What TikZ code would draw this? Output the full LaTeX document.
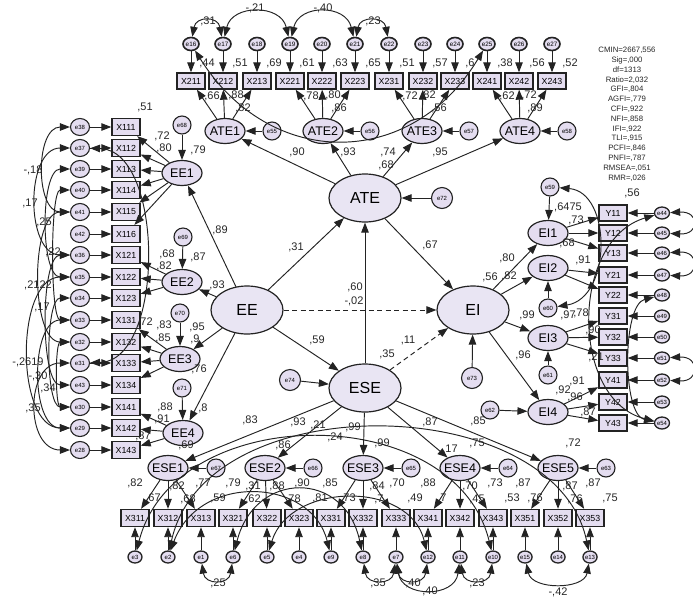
\documentclass[tikz,border=0pt]{standalone}
\usepackage{fontspec}
\setmainfont{Liberation Sans}
\usetikzlibrary{arrows.meta,shapes.geometric}
\definecolor{lav}{RGB}{228,221,240}
\definecolor{lavl}{RGB}{233,229,243}
\definecolor{ink}{RGB}{35,35,35}
\begin{document}
\begin{tikzpicture}[x=1pt,y=-1pt,
  >={Triangle[length=10pt,width=7.5pt]},
  every node/.style={inner sep=0pt},
  big/.style={ellipse,draw=ink,line width=1.2pt,fill=lavl,minimum width=72pt,minimum height=48pt},
  bigtxt/.style={font=\fontsize{16}{16}\selectfont},
  sub/.style={ellipse,draw=ink,line width=1.2pt,fill=lav,minimum width=40pt,minimum height=25pt},
  subtxt/.style={font=\fontsize{12.5}{12.5}\selectfont},
  obs/.style={rectangle,draw=ink,line width=1.4pt,fill=lav,minimum width=28pt,minimum height=16pt,font=\fontsize{8.8}{8.8}\selectfont},
  err/.style={ellipse,draw=ink,line width=1.1pt,fill=lav},
  errT/.style={err,line width=1.6pt,minimum width=16pt,minimum height=13pt,font=\fontsize{6.3}{6.3}\selectfont},
  errL/.style={err,minimum width=19pt,minimum height=17pt,font=\fontsize{6}{6}\selectfont},
  errB/.style={err,line width=1.3pt,minimum width=14pt,minimum height=12pt,font=\fontsize{6}{6}\selectfont},
  errR/.style={err,line width=1.3pt,minimum width=15pt,minimum height=12pt,font=\fontsize{6}{6}\selectfont},
  res/.style={err,minimum width=18pt,minimum height=18pt,font=\fontsize{6}{6}\selectfont},
  lab/.style={font=\fontsize{11}{11}\selectfont,text=black!85},
  arr/.style={->,line width=0.95pt,draw=ink},
  cov/.style={<->,line width=0.95pt,draw=ink},
  fitstyle/.style={font=\fontsize{7.8}{9.8}\selectfont,align=center,text=black!85}
]
\useasboundingbox (0,0) rectangle (693,598);

% ---------- top indicators ----------
\foreach \n/\x/\e in {211/191/16,212/223/17,213/257/18,221/290/19,222/322/20,223/355/21,231/389/22,232/423/23,233/455/24,241/487/25,242/519/26,243/552/27}{
  \node[obs] (X\n) at (\x,81) {X\n};
  \node[errT] (e\e) at (\x,44) {e\e};
  \draw[arr] (e\e) -- (X\n);
}
\foreach \k/\x/\e in {1/225/55,2/323/56,3/422/57,4/520/58}{
  \node[sub,label={[subtxt]center:ATE\k}] (ATE\k) at (\x,131) {};
  \node[res] (e\e) at ({\x+47},131) {e\e};
  \draw[arr] (e\e) -- (ATE\k);
}
\foreach \m in {211,212,213} \draw[arr] (ATE1) -- (X\m);
\foreach \m in {221,222,223} \draw[arr] (ATE2) -- (X\m);
\foreach \m in {231,232,233} \draw[arr] (ATE3) -- (X\m);
\foreach \m in {241,242,243} \draw[arr] (ATE4) -- (X\m);
\draw[cov] (e16) .. controls (196,16) and (218,16) .. (e17);
\draw[cov] (e17) .. controls (232,4) and (281,4) .. (e19);
\draw[cov] (e19) .. controls (299,4) and (346,4) .. (e21);
\draw[cov] (e21) .. controls (360,16) and (384,16) .. (e22);
\draw[cov] (e16) .. controls (270,170) and (411,170) .. (e25);

% ---------- left indicators ----------
\foreach \n/\y/\e in {111/127/38,112/148/37,113/169/39,114/190/40,115/212/41,116/234/42,121/255/36,122/277/35,123/298/34,131/320/33,132/342/32,133/363/31,134/385/43,141/407/30,142/428/29,143/450/28}{
  \node[obs,minimum height=17pt] (X\n) at (126,\y) {X\n};
  \node[errL] (e\e) at (80,\y) {e\e};
  \draw[arr] (e\e) -- (X\n);
}
\node[sub,label={[subtxt]center:EE1}] (EE1) at (182,173) {};
\node[sub,label={[subtxt]center:EE2}] (EE2) at (182,282) {};
\node[sub,label={[subtxt]center:EE3}] (EE3) at (180,359) {};
\node[sub,label={[subtxt]center:EE4}] (EE4) at (183,433) {};
\node[res] (e68) at (182,125) {e68};
\node[res] (e69) at (183,237) {e69};
\node[res] (e70) at (180,313) {e70};
\node[res] (e71) at (182,388) {e71};
\draw[arr] (e68) -- (EE1);
\draw[arr] (e69) -- (EE2);
\draw[arr] (e70) -- (EE3);
\draw[arr] (e71) -- (EE4);
\foreach \m in {111,112,113,114,115,116} \draw[arr] (EE1) -- (X\m);
\foreach \m in {121,122,123} \draw[arr] (EE2) -- (X\m);
\foreach \m in {131,132,133,134} \draw[arr] (EE3) -- (X\m);
\foreach \m in {141,142,143} \draw[arr] (EE4) -- (X\m);
% left covariances
\foreach \a/\b/\ya/\yb/\d in {38/41/127/212/45,37/36/148/255/55,39/35/169/277/40,40/33/190/320/30,41/32/212/342/50,36/43/255/385/40,35/29/277/428/65,34/30/298/407/35,33/29/320/428/50,32/30/342/407/25,31/28/363/450/55}{
  \draw[cov] (e\a) .. controls ({80-\d},\ya) and ({80-\d},\yb) .. (e\b);
}
\draw[cov] (e37) .. controls (165,150) and (165,361) .. (e31);

% ---------- right indicators ----------
\foreach \n/\y/\e in {11/213/44,12/233/45,13/253/46,21/275/47,22/295/48,31/316/49,32/337/50,33/358/51,41/380/52,42/402/53,43/423/54}{
  \node[obs] (Y\n) at (613,\y) {Y\n};
  \node[errR] (e\e) at (662,\y) {e\e};
  \draw[arr] (e\e) -- (Y\n);
}
\node[sub,label={[subtxt]center:EI1}] (EI1) at (548,233) {};
\node[sub,label={[subtxt]center:EI2}] (EI2) at (548,268) {};
\node[sub,label={[subtxt]center:EI3}] (EI3) at (548,338) {};
\node[sub,label={[subtxt]center:EI4}] (EI4) at (548,412) {};
\node[res] (e59) at (550,187) {e59};
\node[res] (e60) at (548,308) {e60};
\node[res] (e61) at (548,375) {e61};
\node[res] (e62) at (490,410) {e62};
\draw[arr] (e59) -- (EI1);
\draw[arr] (e60) -- (EI2);
\draw[arr] (e61) -- (EI3);
\draw[arr] (e62) -- (EI4);
\foreach \m in {11,12,13} \draw[arr] (EI1) -- (Y\m);
\foreach \m in {21,22} \draw[arr] (EI2) -- (Y\m);
\foreach \m in {31,32,33} \draw[arr] (EI3) -- (Y\m);
\foreach \m in {41,42,43} \draw[arr] (EI4) -- (Y\m);
\draw[cov] (e44) .. controls (700,211) and (700,235) .. (e45);
\draw[cov] (e46) .. controls (700,251) and (700,277) .. (e47);
\draw[cov] (e51) .. controls (700,356) and (700,382) .. (e52);
\draw[cov] (e44) .. controls (570,240) and (570,400) .. (e54);
\draw[cov] (e48) .. controls (622,305) and (622,415) .. (e54);
\draw[cov] (e59) .. controls (612,192) and (612,298) .. (e60);

% ---------- bottom indicators ----------
\foreach \n/\x/\e in {311/135/3,312/168/2,313/201/1,321/233/6,322/267/5,323/299/4,331/331/9,332/363/8,333/396/7,341/428/12,342/460/11,343/493/10,351/525/15,352/558/14,353/590/13}{
  \node[obs,minimum height=17pt] (X\n) at (\x,518) {X\n};
  \node[errB] (e\e) at (\x,557) {e\e};
  \draw[arr] (e\e) -- (X\n);
}
\foreach \k/\x/\e in {1/168/67,2/265/66,3/363/65,4/460/64,5/558/63}{
  \node[sub,label={[subtxt]center:ESE\k}] (ESE\k) at (\x,468) {};
  \node[res] (e\e) at ({\x+48},468) {e\e};
  \draw[arr] (e\e) -- (ESE\k);
}
\foreach \m in {311,312,313} \draw[arr] (ESE1) -- (X\m);
\foreach \m in {321,322,323} \draw[arr] (ESE2) -- (X\m);
\foreach \m in {331,332,333} \draw[arr] (ESE3) -- (X\m);
\foreach \m in {341,342,343} \draw[arr] (ESE4) -- (X\m);
\foreach \m in {351,352,353} \draw[arr] (ESE5) -- (X\m);
\draw[cov] (e1) .. controls (205,585) and (229,585) .. (e6);
\draw[cov] (e8) .. controls (367,585) and (392,585) .. (e7);
\draw[cov] (e7) .. controls (400,585) and (424,585) .. (e12);
\draw[cov] (e7) .. controls (402,598) and (455,598) .. (e11);
\draw[cov] (e11) .. controls (464,585) and (489,585) .. (e10);
\draw[cov] (e15) .. controls (532,590) and (584,590) .. (e13);
\draw[cov] (e3) .. controls (175,400) and (455,400) .. (e10);
\draw[cov] (e2) .. controls (205,385) and (555,390) .. (e13);
\draw[cov] (e2) .. controls (200,472) and (312,478) .. (e9);
\draw[cov] (e6) .. controls (255,470) and (345,470) .. (e8);
\draw[cov] (e5) .. controls (290,482) and (410,480) .. (e12);

% ---------- structural part ----------
\node[big,label={[bigtxt]center:ATE}] (ATE) at (365,198) {};
\node[big,label={[bigtxt]center:EE}] (EE) at (247,310) {};
\node[big,label={[bigtxt]center:EI}] (EI) at (473,310) {};
\node[big,label={[bigtxt]center:ESE}] (ESE) at (365,388) {};
\node[res,minimum width=21pt,minimum height=21pt] (e72) at (442,198) {e72};
\node[res,minimum width=21pt,minimum height=21pt] (e73) at (472,378) {e73};
\node[res,minimum width=21pt,minimum height=21pt] (e74) at (290,380) {e74};
\draw[arr] (e72) -- (ATE);
\draw[arr] (e73) -- (EI);
\draw[arr] (e74) -- (ESE);
\draw[arr] (EE) -- (ATE);
\draw[arr,dash pattern=on 5pt off 3.5pt] (EE) -- (EI);
\draw[arr] (EE) -- (ESE);
\draw[arr] (ESE) -- (ATE);
\draw[arr,dash pattern=on 5pt off 3.5pt] (ESE) -- (EI);
\draw[arr] (ATE) -- (EI);
\foreach \k in {1,2,3,4} \draw[arr] (ATE) -- (ATE\k);
\foreach \k in {1,2,3,4} \draw[arr] (EE) -- (EE\k);
\foreach \k in {1,2,3,4} \draw[arr] (EI) -- (EI\k);
\foreach \k in {1,2,3,4,5} \draw[arr] (ESE) -- (ESE\k);

% ---------- labels ----------
\foreach \t/\x/\y [count=\i] in {
 {,31}/208/21,{-,21}/255/8,{-,40}/323/8,{,23}/373/21,
 {,44}/207/63,{,51}/240/63,{,69}/274/63,{,61}/307/63,{,63}/340/63,{,65}/373/63,{,51}/407/63,{,57}/440/63,{,6}/470/63,{,38}/505/63,{,56}/537/63,{,52}/570/63,
 {,66}/212/96,{,88}/236/95,{,82}/243/108,{,78}/311/96,{,80}/333/95,{,86}/339/108,{,72}/410/96,{,82}/428/95,{,56}/439/108,{,62}/507/96,{,72}/529/95,{,89}/535/108,
 {,90}/297/152,{,93}/348/152,{,74}/388/152,{,68}/386/165,{,95}/440/152,
 {,89}/220/230,{,31}/296/247,{,67}/430/245,{,60}/355/287,{-,02}/354/301,{,59}/317/340,{,11}/408/340,{,35}/387/354,
 {,79}/198/150,{,72}/162/136,{,80}/164/148,{,51}/145/107,{,87}/198/257,{,93}/217/285,{,68}/167/254,{,82}/164/266,
 {,83}/164/325,{,85}/163/338,{,72}/145/322,{,95}/197/327,{,9}/195/339,{,76}/199/369,{,88}/165/407,{,91}/162/419,{,87}/143/436,{,8}/203/408,{,69}/186/445,
 {-,18}/33/170,{,17}/30/203,{,25}/44/222,{,22}/53/252,{,2122}/38/285,{,17}/42/307,{-,2619}/28/362,{-,30}/38/376,{,34}/48/388,{,35}/33/408,
 {,56}/632/193,{,6475}/568/207,{,73}/576/220,{,68}/567/243,{,91}/583/260,{,80}/507/258,{,82}/509/276,{,56}/490/277,
 {,99}/527/315,{,96}/523/355,{,97}/568/315,{,78}/581/313,{,90}/593/330,{,21}/596/357,{,91}/577/381,{,92}/563/390,{,96}/575/397,{,87}/588/412,
 {,83}/250/420,{,93}/298/422,{,21}/318/425,{,24}/335/437,{,99}/353/427,{,99}/382/443,{,86}/283/445,{,87}/430/422,{,85}/478/421,{,17}/450/449,{,75}/477/443,{,72}/573/443,
 {,82}/135/483,{,67}/153/498,{,82}/177/486,{,68}/188/499,{,77}/203/483,{,79}/233/483,{,59}/218/498,{,31}/253/486,{,62}/253/499,{,88}/277/486,{,78}/293/499,{,90}/302/483,{,81}/320/498,{,85}/330/483,{,73}/348/498,{,84}/377/486,{,7}/379/499,{,70}/397/483,{,49}/415/498,{,88}/428/483,{,7}/442/498,{,70}/470/486,{,45}/477/499,{,73}/495/483,{,53}/512/498,{,87}/523/483,{,76}/535/498,{,87}/570/486,{,87}/593/483,{,76}/575/499,{,75}/610/498,
 {,25}/218/583,{,35}/378/583,{,40}/413/583,{,40}/430/591,{,23}/477/583,{-,42}/558/592}{
  \node[lab] (lab\i) at (\x,\y) {\t};
}

\node[fitstyle,anchor=north] (fit) at (627,47) {CMIN=2667,556\\Sig=,000\\df=1313\\Ratio=2,032\\GFI=,804\\AGFI=,779\\CFI=,922\\NFI=,858\\IFI=,922\\TLI=,915\\PCFI=,846\\PNFI=,787\\RMSEA=,051\\RMR=,026};
\end{tikzpicture}
\end{document}
